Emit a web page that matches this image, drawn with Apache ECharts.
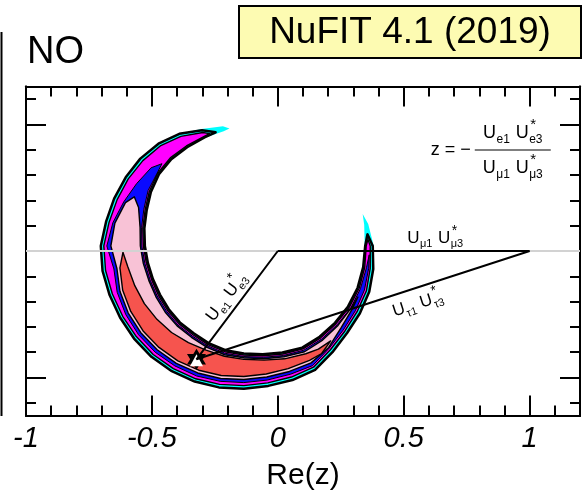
<!DOCTYPE html>
<html><head><meta charset="utf-8">
<script src="https://cdn.jsdelivr.net/npm/echarts@6/dist/echarts.min.js"></script>
<style>html,body{margin:0;padding:0;background:#fff}#c{width:587px;height:498px}</style>
</head><body><div id="c"></div><script>
// ---------------- DATA ----------------
const xTickLabels = [-1, -0.5, 0, 0.5, 1];
const xMajorTicks = [-0.5, 0, 0.5, 1];
const xMinorTicks = [-0.9,-0.8,-0.7,-0.6,-0.4,-0.3,-0.2,-0.1,0.1,0.2,0.3,0.4,0.6,0.7,0.8,0.9,1.1];
const yMajorTicks = [-0.5, 0, 0.5];
const yMinorTicks = [-0.6,-0.4,-0.3,-0.2,-0.1,0.1,0.2,0.3,0.4,0.6];

// triangle vertices: origin, best fit apex z, (1,0)
const triangleVertices = [[0, 0], [-0.323, -0.428], [1, 0], [0, 0]];
const realAxisLine = [[-1, 0], [1.2, 0]];
const bestFit = [[-0.323, -0.428]];

// allowed-region contours (Re z, Im z), outermost first
const regionCyan = [
[-0.192,0.484],
[-0.218,0.493],[-0.303,0.482],[-0.391,0.463],[-0.474,0.424],[-0.546,0.365],[-0.604,0.291],[-0.650,0.207],[-0.682,0.116],[-0.703,0.020],[-0.696,-0.079],[-0.668,-0.174],[-0.626,-0.264],[-0.571,-0.346],[-0.502,-0.418],[-0.421,-0.475],[-0.330,-0.516],[-0.234,-0.539],[-0.135,-0.544],[-0.038,-0.533],[0.058,-0.510],[0.148,-0.470],[0.217,-0.400],[0.275,-0.324],[0.326,-0.246],[0.363,-0.161],[0.379,-0.071],[0.381,0.020],[0.359,0.107],
[0.337,0.146],
[0.343,0.104],[0.345,0.020],[0.339,-0.064],[0.317,-0.145],[0.279,-0.219],[0.227,-0.284],[0.166,-0.339],[0.097,-0.382],[0.018,-0.401],[-0.060,-0.408],[-0.135,-0.405],[-0.208,-0.392],[-0.275,-0.364],[-0.334,-0.325],[-0.389,-0.282],[-0.433,-0.230],[-0.468,-0.172],[-0.496,-0.111],[-0.516,-0.047],[-0.528,0.020],[-0.530,0.090],[-0.521,0.160],[-0.504,0.233],[-0.472,0.303],[-0.423,0.363],[-0.360,0.410],[-0.290,0.447],[-0.215,0.473]
];
const contour3s = [
[-0.247,0.469],
[-0.301,0.477],[-0.391,0.463],[-0.474,0.424],[-0.546,0.365],[-0.604,0.291],[-0.650,0.207],[-0.682,0.116],[-0.703,0.020],[-0.696,-0.079],[-0.668,-0.174],[-0.626,-0.264],[-0.571,-0.346],[-0.502,-0.418],[-0.421,-0.475],[-0.330,-0.516],[-0.234,-0.539],[-0.135,-0.544],[-0.038,-0.533],[0.058,-0.510],[0.148,-0.470],[0.217,-0.400],[0.275,-0.324],[0.326,-0.246],[0.363,-0.161],[0.379,-0.071],[0.377,0.020],
[0.356,0.066],
[0.347,0.020],[0.339,-0.064],[0.317,-0.145],[0.279,-0.219],[0.227,-0.284],[0.166,-0.339],[0.097,-0.382],[0.018,-0.401],[-0.060,-0.408],[-0.135,-0.405],[-0.208,-0.392],[-0.275,-0.364],[-0.334,-0.325],[-0.389,-0.282],[-0.433,-0.230],[-0.468,-0.172],[-0.496,-0.111],[-0.516,-0.047],[-0.528,0.020],[-0.530,0.090],[-0.521,0.160],[-0.504,0.233],[-0.472,0.303],[-0.423,0.363],[-0.360,0.410],[-0.291,0.449]
];
const regionMagenta = [
[-0.271,0.464],
[-0.298,0.468],[-0.385,0.453],[-0.467,0.415],[-0.536,0.357],[-0.594,0.285],[-0.638,0.203],[-0.670,0.114],[-0.691,0.020],[-0.684,-0.077],[-0.657,-0.170],[-0.616,-0.258],[-0.562,-0.338],[-0.495,-0.409],[-0.415,-0.465],[-0.326,-0.505],[-0.231,-0.527],[-0.135,-0.532],[-0.040,-0.521],[0.054,-0.498],[0.142,-0.459],[0.209,-0.390],[0.266,-0.317],[0.315,-0.240],[0.352,-0.157],[0.367,-0.069],[0.367,0.020],
[0.358,0.046],
[0.351,0.020],[0.345,-0.065],[0.323,-0.147],[0.284,-0.222],[0.231,-0.287],[0.170,-0.343],[0.100,-0.387],[0.020,-0.407],[-0.059,-0.414],[-0.135,-0.411],[-0.209,-0.398],[-0.277,-0.370],[-0.337,-0.331],[-0.393,-0.287],[-0.438,-0.234],[-0.474,-0.175],[-0.501,-0.113],[-0.522,-0.048],[-0.534,0.020],[-0.536,0.091],[-0.527,0.162],[-0.510,0.236],[-0.477,0.307],[-0.427,0.368],[-0.363,0.415],[-0.292,0.453]
];
const regionBlue = [
[-0.460,0.345],
[-0.503,0.329],[-0.561,0.266],[-0.612,0.194],[-0.655,0.112],[-0.679,0.020],[-0.651,-0.071],[-0.638,-0.163],[-0.604,-0.251],[-0.553,-0.331],[-0.487,-0.400],[-0.409,-0.454],[-0.322,-0.494],[-0.229,-0.515],[-0.135,-0.520],[-0.042,-0.510],[0.050,-0.487],[0.138,-0.453],[0.204,-0.384],[0.260,-0.312],[0.308,-0.236],[0.344,-0.154],[0.361,-0.068],
[0.363,-0.015],
[0.352,-0.066],[0.328,-0.149],[0.290,-0.225],[0.236,-0.291],[0.174,-0.348],[0.103,-0.392],[0.022,-0.413],[-0.058,-0.420],[-0.135,-0.417],[-0.210,-0.404],[-0.279,-0.375],[-0.340,-0.336],[-0.397,-0.292],[-0.442,-0.238],[-0.479,-0.178],[-0.507,-0.115],[-0.528,-0.049],[-0.540,0.020],[-0.541,0.092],[-0.532,0.165],[-0.515,0.239],[-0.479,0.308]
];
const regionPink = [
[-0.570,0.214],
[-0.605,0.191],[-0.647,0.110],[-0.663,0.020],[-0.639,-0.069],[-0.627,-0.159],[-0.594,-0.245],[-0.544,-0.323],[-0.479,-0.390],[-0.403,-0.444],[-0.318,-0.482],[-0.227,-0.504],[-0.135,-0.508],[-0.044,-0.498],[0.046,-0.476],[0.132,-0.442],[0.202,-0.381],[0.251,-0.304],[0.296,-0.229],
[0.318,-0.182],
[0.291,-0.226],[0.239,-0.294],[0.178,-0.352],[0.106,-0.398],[0.024,-0.418],[-0.056,-0.426],[-0.135,-0.422],[-0.211,-0.410],[-0.281,-0.381],[-0.343,-0.341],[-0.400,-0.296],[-0.447,-0.242],[-0.484,-0.181],[-0.512,-0.117],[-0.534,-0.050],[-0.546,0.020],[-0.547,0.093],[-0.553,0.172]
];
const regionRed = [
[-0.615,-0.005],
[-0.627,-0.067],[-0.616,-0.155],[-0.584,-0.239],[-0.535,-0.316],[-0.472,-0.381],[-0.397,-0.434],[-0.314,-0.471],[-0.225,-0.492],[-0.135,-0.496],[-0.046,-0.486],[0.041,-0.465],[0.126,-0.432],[0.174,-0.405],
[0.210,-0.355],
[0.161,-0.388],[0.111,-0.406],[0.027,-0.426],[-0.055,-0.431],[-0.135,-0.428],[-0.212,-0.416],[-0.285,-0.392],[-0.355,-0.362],[-0.422,-0.322],[-0.480,-0.270],[-0.530,-0.208],[-0.568,-0.137],[-0.596,-0.061]
];

// ---------------- TEXT ----------------
const titleText = 'NuFIT 4.1 (2019)';
const orderingText = 'NO';
const xAxisName = 'Re(z)';

// ---------------- LAYOUT / STYLE ----------------
const FONT = '"Liberation Sans", Arial, Helvetica, sans-serif';
const X_MIN = -1, X_MAX = 1.2, Y_MIN = -0.65, Y_MAX = 0.65;
const anchorE = [-0.204, -0.183], rotE = 52.9;
const anchorTau = [0.556, -0.210], rotTau = 17.8;
const anchorMu = [0.625, 0.050];
const anchorFormula = [0.933, 0.399];

const chart = echarts.init(document.getElementById('c'), null, {renderer: 'canvas'});

function polySeries(points, style) {
  return {
    type: 'custom', coordinateSystem: 'cartesian2d', xAxisIndex: 0, yAxisIndex: 0,
    data: points, silent: true, animation: false,
    renderItem: function (params, api) {
      if (params.dataIndex !== 0) return null;
      return {type: 'polygon', shape: {points: points.map(p => api.coord(p))}, style: Object.assign({}, style)};
    }
  };
}
function xAx(pos, ticks, len, extra) {
  return Object.assign({
    type: 'value', min: X_MIN, max: X_MAX, position: pos, gridIndex: 0,
    axisLine: {show: true, onZero: false, lineStyle: {color: '#000', width: 2}},
    axisTick: {show: true, inside: true, length: len, customValues: ticks, lineStyle: {color: '#000', width: 2}},
    axisLabel: {show: false}, splitLine: {show: false}
  }, extra || {});
}
function yAx(pos, ticks, len) {
  return {
    type: 'value', min: Y_MIN, max: Y_MAX, position: pos, gridIndex: 0,
    axisLine: {show: true, onZero: false, lineStyle: {color: '#000', width: 2}},
    axisTick: {show: true, inside: true, length: len, customValues: ticks, lineStyle: {color: '#000', width: 2}},
    axisLabel: {show: false}, splitLine: {show: false}
  };
}

const option = {
  animation: false,
  grid: {left: 26, right: 7, top: 86.5, bottom: 82.5, containLabel: false},
  xAxis: [
    xAx('bottom', xMajorTicks, 20, {
      axisLabel: {show: true, customValues: xTickLabels, color: '#000', fontSize: 29, fontStyle: 'italic', fontFamily: FONT, margin: 9,
                  formatter: v => String(v)},
      name: xAxisName, nameLocation: 'middle', nameGap: 45,
      nameTextStyle: {color: '#000', fontSize: 30, fontFamily: FONT}
    }),
    xAx('bottom', xMinorTicks, 10),
    xAx('top', xMajorTicks, 20),
    xAx('top', xMinorTicks, 10)
  ],
  yAxis: [
    yAx('left', yMajorTicks, 20),
    yAx('left', yMinorTicks, 10),
    yAx('right', yMajorTicks, 20),
    yAx('right', yMinorTicks, 10)
  ],
  series: [
    polySeries(regionCyan, {fill: '#00ffff'}),
    polySeries(contour3s, {fill: '#00ffff', stroke: '#000', lineWidth: 2.5, lineJoin: 'round'}),
    polySeries(regionMagenta, {fill: '#ff00ff', stroke: '#000', lineWidth: 1.4, lineJoin: 'round'}),
    polySeries(regionBlue, {fill: '#0a0aff', stroke: '#000', lineWidth: 1, lineJoin: 'round'}),
    polySeries(regionPink, {fill: '#f8c2d6', stroke: '#000', lineWidth: 1.4, lineJoin: 'round'}),
    polySeries(regionRed, {fill: '#f6544e', stroke: '#000', lineWidth: 1.4, lineJoin: 'round'}),
    {type: 'line', data: realAxisLine, symbol: 'none', silent: true, lineStyle: {color: '#d2d2d2', width: 2}},
    {type: 'line', data: triangleVertices, symbol: 'none', silent: true, lineStyle: {color: '#000', width: 2}},
    {type: 'scatter', data: bestFit, silent: true, symbol: 'path://M0,-10L8.66,5L-8.66,5Z M0,10L-8.66,-5L8.66,-5Z',
     symbolSize: [19, 21], itemStyle: {color: '#000', opacity: 1}},
    {type: 'scatter', data: bestFit, silent: true, symbol: 'triangle', symbolSize: [13, 12], symbolOffset: [0, 1],
     itemStyle: {color: '#fff', opacity: 1}}
  ]
};
chart.setOption(option);

// ---------- annotations (text) ----------
const cv = document.createElement('canvas').getContext('2d');
function measure(t, fs) { cv.font = fs + 'px ' + FONT; return cv.measureText(t).width; }
function txt(t, x, y, fs, align) {
  return {type: 'text', x: x, y: y, silent: true,
    style: {text: t, fontSize: fs, fontFamily: FONT, fill: '#000',
            align: align || 'left', verticalAlign: 'middle', textAlign: align || 'left', textVerticalAlign: 'middle'}};
}
function uPair(a, b, fs) {
  const sfs = Math.round(fs * 0.66);
  const kids = [];
  let x = 0;
  const wU = measure('U', fs);
  kids.push(txt('U', x, 0, fs)); x += wU + 0.5;
  kids.push(txt(a, x, fs * 0.36, sfs)); x += measure(a, sfs) + fs * 0.32;
  kids.push(txt('U', x, 0, fs)); x += wU + 0.5;
  kids.push(txt('*', x + 1, -fs * 0.45, sfs + 3));
  kids.push(txt(b, x, fs * 0.36, sfs)); x += measure(b, sfs);
  kids.forEach(k => { k.x -= x / 2; });
  return kids;
}
function px(p) { return chart.convertToPixel({gridIndex: 0}, p); }

const pE = px(anchorE), pT = px(anchorTau), pM = px(anchorMu), pF = px(anchorFormula);
chart.setOption({
  graphic: [
    {type: 'line', shape: {x1: 1.5, y1: 32, x2: 1.5, y2: 416}, style: {stroke: '#000', lineWidth: 2}, silent: true},
    {type: 'rect', shape: {x: 239, y: 6, width: 342, height: 52}, style: {fill: '#fdfbb2', stroke: '#000', lineWidth: 2}, silent: true},
    txt(titleText, 410, 32.5, 37, 'center'),
    txt(orderingText, 27, 53, 38, 'left'),
    {type: 'group', x: pM[0], y: pM[1], children: uPair('\u03bc1', '\u03bc3', 17)},
    {type: 'group', x: pE[0], y: pE[1], rotation: rotE * Math.PI / 180, children: uPair('e1', 'e3', 17)},
    {type: 'group', x: pT[0], y: pT[1], rotation: rotTau * Math.PI / 180, children: uPair('\u03c41', '\u03c43', 17)},
    {type: 'group', x: pF[0], y: pF[1], children: [
      txt('z = \u2212', -42, 0, 18, 'right'),
      {type: 'line', shape: {x1: -38, y1: 0, x2: 38, y2: 0}, style: {stroke: '#000', lineWidth: 1.2}},
      {type: 'group', x: 0, y: -17, children: uPair('e1', 'e3', 18)},
      {type: 'group', x: 0, y: 18, children: uPair('\u03bc1', '\u03bc3', 18)}
    ]}
  ]
});
</script></body></html>
